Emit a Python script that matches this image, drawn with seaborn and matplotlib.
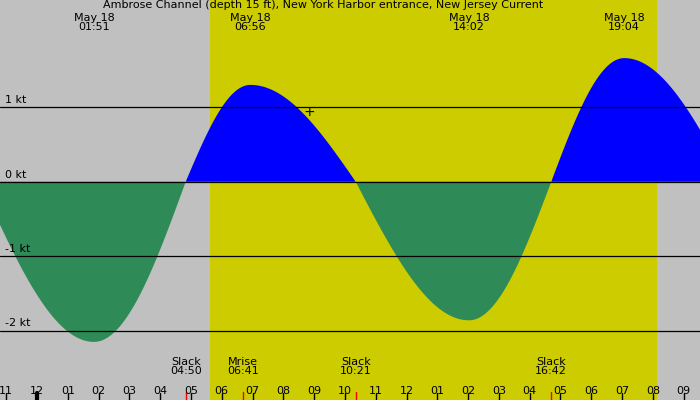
import numpy as np
import pandas as pd
import matplotlib
matplotlib.use("Agg")
import matplotlib.pyplot as plt
import seaborn as sns

# key current events (hours from midnight May 18, knots)
event_hours = [-1.84, 1.85, 4.83, 6.93, 10.35, 14.03, 16.70, 19.07, 22.47]
event_speed = [0.0, -2.15, 0.0, 1.30, 0.0, -1.86, 0.0, 1.66, 0.0]
top_hours = [1.85, 6.93, 14.03, 19.07]
top_labels = ["May 18\n01:51", "May 18\n06:56", "May 18\n14:02", "May 18\n19:04"]
bot_hours = [-1.8, 4.83, 6.68, 10.35, 16.70]
bot_labels = ["Slack\n22:03", "Slack\n04:50", "Mrise\n06:41", "Slack\n10:21", "Slack\n16:42"]
hour_ticks = list(range(-1, 22))
hour_labels = ["%02d" % ((h - 1) % 12 + 1) for h in hour_ticks]
sunrise, sunset = 5.62, 20.13
kt_levels = [-2, -1, 0, 1]

# smooth curve between events (quarter-sine shape: steep at slack, flat at max)
t = np.linspace(-1.3, 21.6, 1500)
v = np.zeros_like(t)
for i in range(len(event_hours) - 1):
    a, b = event_hours[i], event_hours[i + 1]
    m = (t >= a) & (t <= b)
    f = (t[m] - a) / (b - a)
    if event_speed[i] == 0:
        v[m] = event_speed[i + 1] * np.sin(np.pi / 2 * f)
    else:
        v[m] = event_speed[i] * np.cos(np.pi / 2 * f)
df = pd.DataFrame({"hour": t, "speed": v})

sns.set_style("white")
plt.rcParams["font.family"] = ["DejaVu Sans"]
plt.rcParams["text.color"] = "black"
fig = plt.figure(figsize=(7, 4), dpi=100, facecolor="#c0c0c0")
ax = fig.add_axes([0, 0, 1, 1])
x0, x1 = -1.2, 21.53
ax.set_xlim(x0, x1)
ax.set_ylim(-2.93, 2.44)
ax.axvspan(sunrise, sunset, color="#cccc00", lw=0)
ax.fill_between(df.hour, df.speed, 0, where=df.speed >= 0, color="#0000ff", lw=0)
ax.fill_between(df.hour, df.speed, 0, where=df.speed <= 0, color="#2e8b57", lw=0)
sns.lineplot(data=df, x="hour", y="speed", ax=ax, lw=0, color="#0000ff")
for k in kt_levels:
    ax.axhline(k, color="black", lw=0.9)
    ax.text(x0 + 0.15, k + 0.03, "%d kt" % k, fontsize=8, va="bottom", ha="left")
ax.set_axis_off()
ax.text(9.3, 2.44, "Ambrose Channel (depth 15 ft), New York Harbor entrance, New Jersey Current",
        fontsize=8, ha="center", va="top")
for h, s in zip(top_hours, top_labels):
    ax.text(h, 2.27, s, fontsize=8, ha="center", va="top", linespacing=0.95)
for h, s in zip(bot_hours, bot_labels):
    ax.text(h, -2.35, s, fontsize=8, ha="center", va="top", linespacing=0.95)
    ax.plot([h, h], [-2.93, -2.82], color="red", lw=1)
for h, s in zip(hour_ticks, hour_labels):
    ax.text(h, -2.88, s, fontsize=8, ha="center", va="bottom")
    ax.plot([h, h], [-2.93, -2.84], color="black", lw=3 if h == 0 else 1)
ax.text(8.83, 0.93, "+", fontsize=10, ha="center", va="center")
fig.savefig("out.png", dpi=100, facecolor="#c0c0c0")
